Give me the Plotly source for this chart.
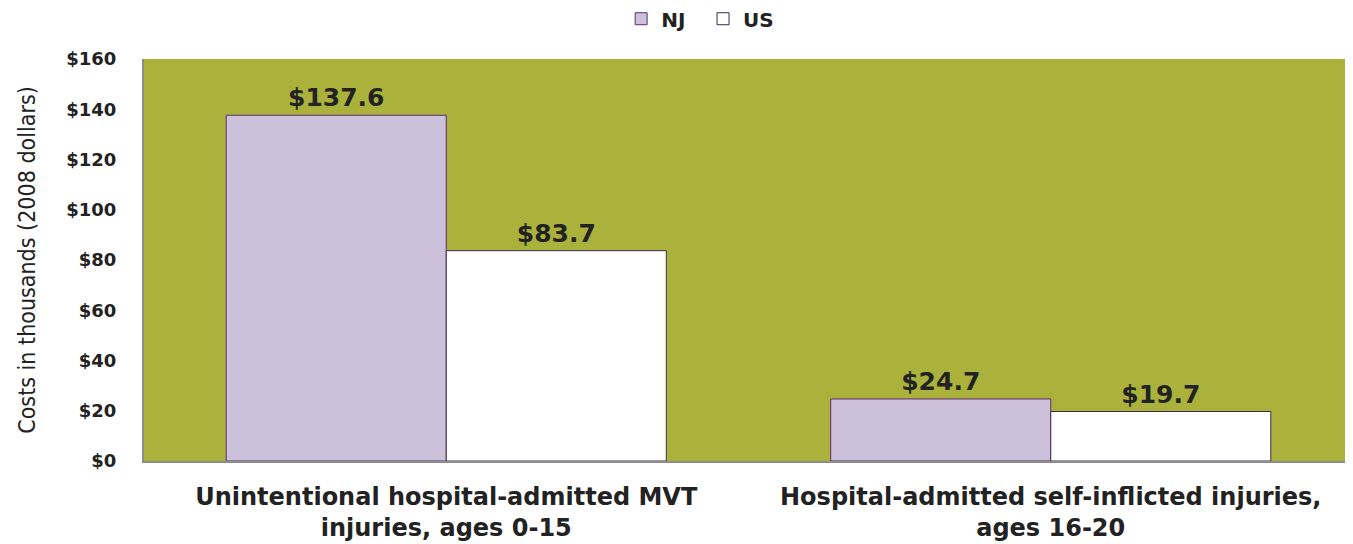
import plotly.graph_objects as go

categories = ["Unintentional hospital-admitted MVT<br>injuries, ages 0-15",
              "Hospital-admitted self-inflicted injuries,<br>ages 16-20"]
nj_values = [137.6, 24.7]
us_values = [83.7, 19.7]
y_ticks = [0, 20, 40, 60, 80, 100, 120, 140, 160]
y_tick_labels = ["$" + str(v) for v in y_ticks]

BOLD = "DejaVu Sans"
TXT = "#222222"

fig = go.Figure()
fig.add_trace(go.Bar(
    name="<b>NJ</b>  ", x=categories, y=nj_values,
    marker=dict(color="#ccc0da", line=dict(color="#5f2d6e", width=1)),
    text=["<b>$" + f"{v:.1f}" + "</b>" for v in nj_values], textposition="outside",
    textfont=dict(family=BOLD, size=25, color=TXT), cliponaxis=False,
))
fig.add_trace(go.Bar(
    name="<b>US</b>", x=categories, y=us_values,
    marker=dict(color="#ffffff", line=dict(color="#3d2a4f", width=1)),
    text=["<b>$" + f"{v:.1f}" + "</b>" for v in us_values], textposition="outside",
    textfont=dict(family=BOLD, size=25, color=TXT), cliponaxis=False,
))

# page body has an 8px margin, so figure is sized 8px smaller
fig.update_layout(
    width=1345, height=536,
    margin=dict(l=136, r=0, t=51, b=83, autoexpand=False),
    paper_bgcolor="#ffffff",
    plot_bgcolor="#abb23c",
    barmode="group",
    bargap=0.272, bargroupgap=0,
    showlegend=True,
    legend=dict(orientation="h", x=0.46, xanchor="center", xref="paper",
                y=0.98, yanchor="middle", yref="container",
                font=dict(family=BOLD, size=20, color=TXT),
                traceorder="normal", itemwidth=30),
    font=dict(family=BOLD, color=TXT),
)
fig.update_xaxes(
    automargin=False,
    tickvals=categories, ticktext=["<b>" + c + "</b>" for c in categories],
    showgrid=False, showline=True, linecolor="#8c8c8c", linewidth=2,
    tickfont=dict(family=BOLD, size=24, color=TXT),
    ticks="", ticklabelstandoff=13,
)
fig.update_yaxes(
    automargin=False,
    range=[0, 160], tickvals=y_ticks, ticktext=["<b>" + t + "</b>" for t in y_tick_labels],
    showgrid=False, showline=True, linecolor="#8c8c8c", linewidth=2,
    tickfont=dict(family=BOLD, size=18, color=TXT),
    ticks="", zeroline=False, ticklabelstandoff=22,
    title=dict(text="Costs in thousands (2008 dollars)",
               font=dict(family="DejaVu Sans Condensed, Liberation Sans Narrow, DejaVu Sans", size=23, color=TXT),
               standoff=24),
)

fig.write_html("out.html")
